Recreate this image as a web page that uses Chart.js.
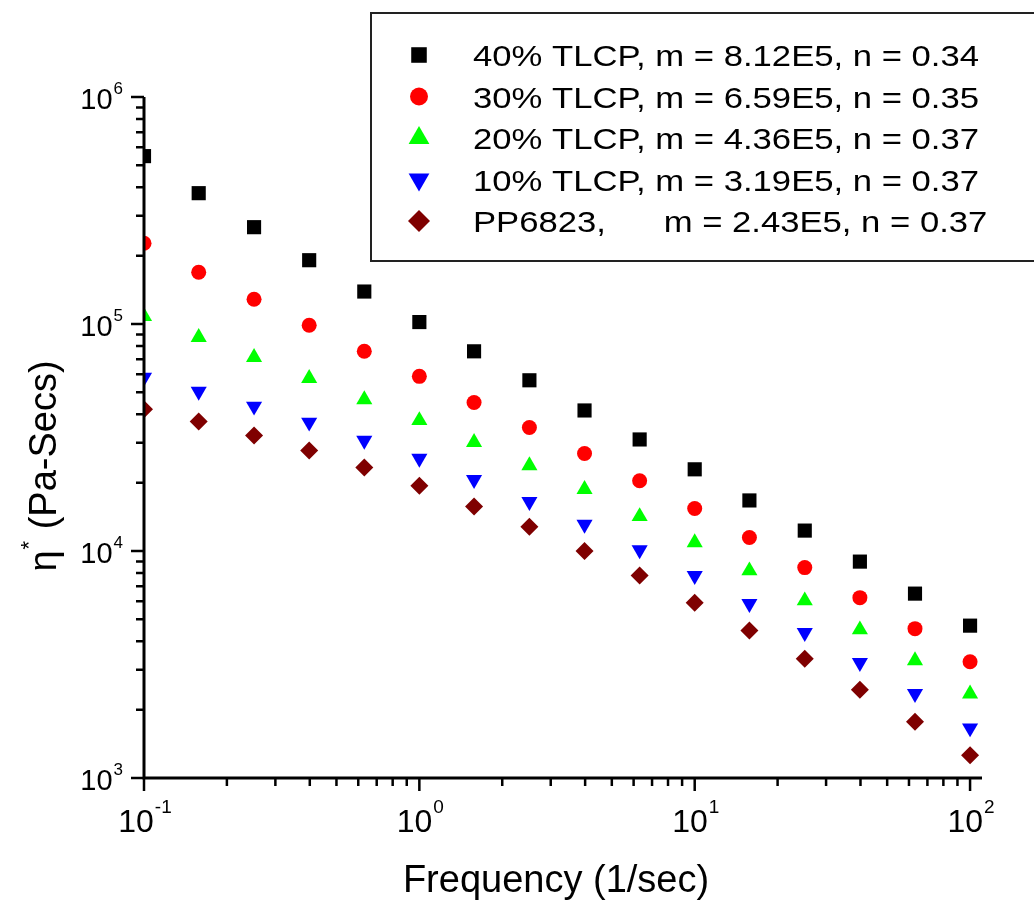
<!DOCTYPE html>
<html>
<head>
<meta charset="utf-8">
<script src="https://cdn.jsdelivr.net/npm/chart.js@4/dist/chart.umd.min.js"></script>
<style>
    body { margin: 0; background: #fff; }
    #chart { display: block; }
</style>
</head>
<body>
<canvas id="chart" width="1034" height="903"></canvas>
<script>
const frequency = [0.1, 0.158, 0.251, 0.398, 0.631, 1, 1.58, 2.51, 3.98, 6.31, 10, 15.8, 25.1, 39.8, 63.1, 100];

const tlcp40 = [5.49e5, 3.77e5, 2.67e5, 1.91e5, 1.39e5, 1.02e5, 7.58e4, 5.65e4, 4.16e4, 3.10e4, 2.29e4, 1.67e4, 1.23e4, 8.98e3, 6.49e3, 4.69e3];
const tlcp30 = [2.27e5, 1.69e5, 1.285e5, 9.87e4, 7.58e4, 5.88e4, 4.51e4, 3.50e4, 2.69e4, 2.04e4, 1.54e4, 1.146e4, 8.45e3, 6.23e3, 4.55e3, 3.25e3];
const tlcp20 = [1.08e5, 8.74e4, 7.13e4, 5.76e4, 4.65e4, 3.76e4, 3.01e4, 2.38e4, 1.87e4, 1.42e4, 1.09e4, 8.19e3, 6.04e3, 4.50e3, 3.29e3, 2.35e3];
const tlcp10 = [5.82e4, 5.05e4, 4.34e4, 3.69e4, 3.07e4, 2.56e4, 2.06e4, 1.65e4, 1.31e4, 1.01e4, 7.79e3, 5.86e3, 4.37e3, 3.22e3, 2.35e3, 1.66e3];
const pp6823 = [4.21e4, 3.72e4, 3.23e4, 2.77e4, 2.33e4, 1.94e4, 1.57e4, 1.28e4, 1.00e4, 7.79e3, 5.92e3, 4.46e3, 3.35e3, 2.45e3, 1.77e3, 1.26e3];

const seriesLabels = [
    '40% TLCP, m = 8.12E5, n = 0.34',
    '30% TLCP, m = 6.59E5, n = 0.35',
    '20% TLCP, m = 4.36E5, n = 0.37',
    '10% TLCP, m = 3.19E5, n = 0.37',
    'PP6823,      m = 2.43E5, n = 0.37'
];
const xExponents = [-1, 0, 1, 2];
const yExponents = [3, 4, 5, 6];

const FONT = '"Liberation Sans", Arial, sans-serif';

function toPoints(values) {
    return values.map((v, i) => ({ x: frequency[i], y: v }));
}

function makeDataset(label, values, color, style, radius, rotation) {
    return {
        label: label,
        data: toPoints(values),
        backgroundColor: color,
        borderColor: color,
        borderWidth: 0,
        pointStyle: style,
        pointRadius: radius,
        pointHoverRadius: radius,
        pointRotation: rotation || 0,
        pointBorderWidth: 0
    };
}

// draws "10" with a raised exponent
function drawPower(ctx, exp, x, y, align, baseSize, supSize, raise) {
    const base = '10';
    const sup = String(exp);
    ctx.font = baseSize + 'px ' + FONT;
    const wBase = ctx.measureText(base).width;
    ctx.font = supSize + 'px ' + FONT;
    const wSup = ctx.measureText(sup).width;
    const total = wBase + wSup + 1;
    let left = align === 'right' ? x - total : x - total / 2;
    ctx.textAlign = 'left';
    ctx.textBaseline = 'alphabetic';
    ctx.font = baseSize + 'px ' + FONT;
    ctx.fillText(base, left, y);
    ctx.font = supSize + 'px ' + FONT;
    ctx.fillText(sup, left + wBase + 1, y - raise);
}

const axesPlugin = {
    id: 'originAxes',
    afterDatasetsDraw(chart) {
        const ctx = chart.ctx;
        const area = chart.chartArea;
        const xs = chart.scales.x;
        const ys = chart.scales.y;
        ctx.save();
        ctx.strokeStyle = '#000';
        ctx.fillStyle = '#000';
        ctx.lineWidth = 3;
        ctx.lineCap = 'butt';

        // axis lines
        ctx.beginPath();
        ctx.moveTo(area.left, area.top);
        ctx.lineTo(area.left, area.bottom);
        ctx.moveTo(area.left - 1.5, area.bottom);
        ctx.lineTo(area.right, area.bottom);
        ctx.stroke();

        // x ticks
        ctx.lineWidth = 2.5;
        ctx.beginPath();
        for (let e = -1; e <= 2; e++) {
            for (let k = 1; k <= 9; k++) {
                const v = k * Math.pow(10, e);
                if (v > xs.max) break;
                const px = xs.getPixelForValue(v);
                const len = k === 1 ? 13 : 8;
                ctx.moveTo(px, area.bottom);
                ctx.lineTo(px, area.bottom + len);
            }
        }
        // y ticks
        for (let e = 3; e <= 6; e++) {
            for (let k = 1; k <= 9; k++) {
                const v = k * Math.pow(10, e);
                if (v > ys.max) break;
                const py = ys.getPixelForValue(v);
                const len = k === 1 ? 13 : 8;
                ctx.moveTo(area.left, py);
                ctx.lineTo(area.left - len, py);
            }
        }
        ctx.stroke();

        // tick labels
        xExponents.forEach(e => {
            drawPower(ctx, e, xs.getPixelForValue(Math.pow(10, e)) + 1, area.bottom + 54, 'center', 32, 19, 19);
        });
        yExponents.forEach(e => {
            drawPower(ctx, e, area.left - 21, ys.getPixelForValue(Math.pow(10, e)) + 12, 'right', 29, 17, 15);
        });

        // x title
        ctx.font = '38px ' + FONT;
        ctx.textAlign = 'center';
        ctx.fillText('Frequency (1/sec)', 556, 892);

        // y title, rotated
        ctx.translate(56, 466);
        ctx.rotate(-Math.PI / 2);
        ctx.font = '38px ' + FONT;
        const eta = '\u03B7';
        const rest = ' (Pa-Secs)';
        const wEta = ctx.measureText(eta).width;
        const wRest = ctx.measureText(rest).width;
        ctx.font = '22px ' + FONT;
        const wStar = ctx.measureText('*').width;
        const total = wEta + wStar + 2 + wRest;
        let pos = -total / 2;
        ctx.textAlign = 'left';
        ctx.font = '38px ' + FONT;
        ctx.fillText(eta, pos, 0);
        pos += wEta + 1;
        ctx.font = '22px ' + FONT;
        ctx.fillText('*', pos, -20);
        pos += wStar + 1;
        ctx.font = '38px ' + FONT;
        ctx.fillText(rest, pos, 0);

        ctx.restore();
    }
};

const legendPlugin = {
    id: 'boxLegend',
    afterDraw(chart) {
        const ctx = chart.ctx;
        ctx.save();
        ctx.lineWidth = 2;
        ctx.strokeStyle = '#222';
        ctx.strokeRect(371, 13, 700, 248);

        const rowY = [55, 96.5, 138, 179.5, 221];
        const legendRadius = [11, 9, 12, 12, 11];
        chart.data.datasets.forEach((ds, i) => {
            ctx.fillStyle = ds.backgroundColor;
            ctx.strokeStyle = ds.borderColor;
            Chart.helpers.drawPoint(ctx, {
                pointStyle: ds.pointStyle,
                radius: legendRadius[i],
                rotation: ds.pointRotation,
                borderWidth: 0
            }, 419, rowY[i]);

            ctx.fillStyle = '#000';
            ctx.font = '30px ' + FONT;
            ctx.textAlign = 'left';
            ctx.textBaseline = 'alphabetic';
            ctx.save();
            ctx.translate(473, rowY[i] + 11);
            ctx.scale(1.155, 1);
            ctx.fillText(ds.label, 0, 0);
            ctx.restore();
        });
        ctx.restore();
    }
};

function createViscosityChart() {
    const ctx = document.getElementById('chart').getContext('2d');
    new Chart(ctx, {
        type: 'scatter',
        data: {
            datasets: [
                makeDataset(seriesLabels[0], tlcp40, '#000000', 'rect', 10),
                makeDataset(seriesLabels[1], tlcp30, '#ff0000', 'circle', 7.5),
                makeDataset(seriesLabels[2], tlcp20, '#00ff00', 'triangle', 9.3),
                makeDataset(seriesLabels[3], tlcp10, '#0000ff', 'triangle', 9.3, 180),
                makeDataset(seriesLabels[4], pp6823, '#7f0000', 'rectRot', 9)
            ]
        },
        options: {
            responsive: false,
            animation: false,
            devicePixelRatio: 1,
            layout: {
                padding: { left: 144, right: 52, top: 97, bottom: 125 }
            },
            plugins: {
                legend: { display: false },
                tooltip: { enabled: false },
                title: { display: false }
            },
            scales: {
                x: { type: 'logarithmic', min: 0.1, max: 110.5, display: false },
                y: { type: 'logarithmic', min: 1000, max: 1000000, display: false }
            }
        },
        plugins: [axesPlugin, legendPlugin]
    });
}

document.addEventListener('DOMContentLoaded', createViscosityChart);
</script>
</body>
</html>
